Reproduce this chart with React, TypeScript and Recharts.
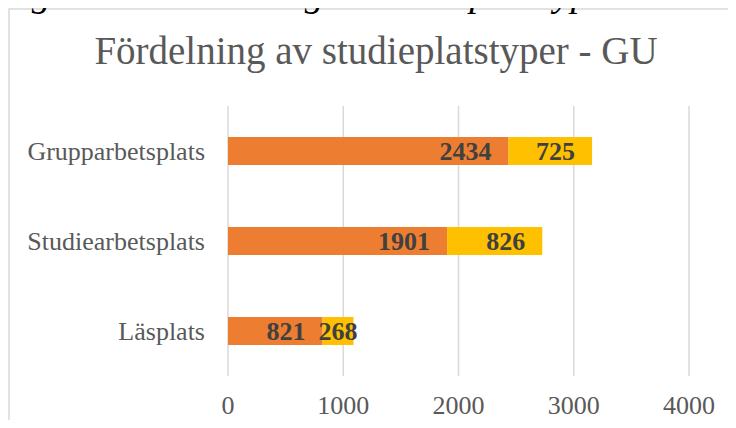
import { BarChart, Bar, XAxis, YAxis, CartesianGrid, LabelList } from 'recharts';

const categories = ['Grupparbetsplats', 'Studiearbetsplats', 'Läsplats'];
const firstValues = [2434, 1901, 821];
const secondValues = [725, 826, 268];
const xTicks = [0, 1000, 2000, 3000, 4000];

const data = categories.map((name, i) => ({
  name,
  first: firstValues[i],
  second: secondValues[i],
}));

const FONT = '"Liberation Serif", "Times New Roman", serif';

// Excel-style "inside end" label, centred when the segment is too narrow
const InsideEndLabel = (props: any) => {
  const { x, y, width, height, value } = props;
  const textW = String(value).length * 13.5;
  const fits = width >= textW + 20;
  const tx = fits ? x + width - 17 : x + width / 2;
  return (
    <text
      x={tx}
      y={y + height / 2 + 9}
      textAnchor={fits ? 'end' : 'middle'}
      fontFamily={FONT}
      fontWeight="bold"
      fontSize={26}
      fill="#404040"
    >
      {value}
    </text>
  );
};

const App = () => {
  return (
    <div
      style={{
        position: 'relative',
        width: 736,
        height: 428,
        overflow: 'hidden',
        margin: -8,
        background: '#fff',
      }}
    >
      <svg width={736} height={428} style={{ position: 'absolute', left: 0, top: 0 }}>
        <rect x={9} y={9} width={760} height={460} fill="#fff" stroke="#d9d9d9" strokeWidth={1.5} />
        {/* figure caption, cut off at the top like in the source */}
        <text x={-2} y={6} fontFamily={FONT} fontStyle="italic" fontSize={38} fill="#000">
          Figur 18: Fördelning av studieplatstyper - GU.
        </text>
        <text x={376} y={64} textAnchor="middle" fontFamily={FONT} fontSize={39} fill="#595959">
          Fördelning av studieplatstyper - GU
        </text>
      </svg>
      <div style={{ position: 'absolute', left: 0, top: 0 }}>
        <BarChart
          width={736}
          height={428}
          data={data}
          layout="vertical"
          margin={{ top: 106, right: 47, bottom: 0, left: 0 }}
        >
          <CartesianGrid horizontal={false} stroke="#d9d9d9" strokeWidth={1.5} />
          <XAxis
            type="number"
            domain={[0, 4000]}
            ticks={xTicks}
            axisLine={false}
            tickLine={false}
            height={52}
            tickMargin={14}
            tick={{ fontSize: 26, fontFamily: FONT, fill: '#595959' }}
          />
          <YAxis
            type="category"
            dataKey="name"
            width={228}
            axisLine={false}
            tickLine={false}
            tickMargin={17}
            tick={{ fontSize: 26, fontFamily: FONT, fill: '#595959' }}
          />
          <Bar dataKey="first" stackId="a" fill="#ED7D31" barSize={28} isAnimationActive={false}>
            <LabelList dataKey="first" content={InsideEndLabel} />
          </Bar>
          <Bar dataKey="second" stackId="a" fill="#FFC000" barSize={28} isAnimationActive={false}>
            <LabelList dataKey="second" content={InsideEndLabel} />
          </Bar>
        </BarChart>
      </div>
    </div>
  );
};

export default App;
